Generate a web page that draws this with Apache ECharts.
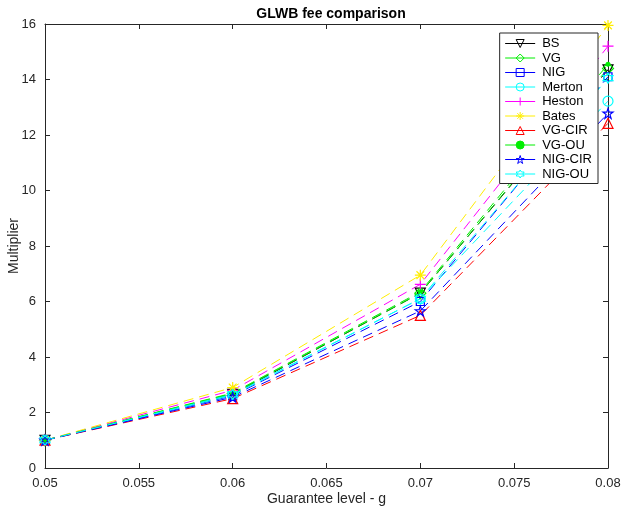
<!DOCTYPE html>
<html lang="en">
<head>
    <meta charset="UTF-8">
    <title>GLWB fee comparison</title>
    <script type="text/javascript" src="https://cdn.jsdelivr.net/npm/echarts@6/dist/echarts.min.js"></script>
    <style>
        body{
            padding: 0px;
            margin: 0px;
            background-color: #fff;
        }
        #chart{
            width: 623px;
            height: 507px;
        }
    </style>
</head>
<body>
    <div id="chart"></div>
    <script>
    // guarantee levels
    var levels = [0.05, 0.06, 0.07, 0.08];
    var models = ['BS', 'VG', 'NIG', 'Merton', 'Heston', 'Bates', 'VG-CIR', 'VG-OU', 'NIG-CIR', 'NIG-OU'];

    var bs     = [1, 2.65, 6.30, 14.35];
    var vg     = [1, 2.68, 6.30, 14.40];
    var nig    = [1, 2.60, 6.00, 14.10];
    var merton = [1, 2.62, 6.10, 13.22];
    var heston = [1, 2.80, 6.62, 15.20];
    var bates  = [1, 2.90, 6.95, 15.95];
    var vgCir  = [1, 2.50, 5.50, 12.42];
    var vgOu   = [1, 2.70, 6.35, 14.55];
    var nigCir = [1, 2.55, 5.66, 12.78];
    var nigOu  = [1, 2.65, 6.10, 14.05];

    var values = [bs, vg, nig, merton, heston, bates, vgCir, vgOu, nigCir, nigOu];
    var colors = ['#000000', '#00ee00', '#0000ff', '#00ffff', '#ff00ff', '#ffee00', '#ff0000', '#00ee00', '#0000ff', '#00ffff'];

    var star5 = 'path://M5,0L6.12,3.45L9.76,3.45L6.82,5.59L7.94,9.05L5,6.91L2.06,9.05L3.18,5.59L0.24,3.45L3.88,3.45Z';
    var star6 = 'path://M5,0L6.44,2.5L9.33,2.5L7.89,5L9.33,7.5L6.44,7.5L5,10L3.56,7.5L0.67,7.5L2.11,5L0.67,2.5L3.56,2.5Z';
    var plus = 'path://M0,5L10,5M5,0L5,10';
    var aster = 'path://M5,0L5,10M0,5L10,5M1.5,1.5L8.5,8.5M8.5,1.5L1.5,8.5';
    // marker per model: [symbol, size, rotate, filled]
    var markers = [
        ['triangle', 10, 180, false],
        ['diamond', 11, 0, false],
        ['rect', 8, 0, false],
        ['circle', 10, 0, false],
        [plus, 11, 0, false],
        [aster, 11, 0, false],
        ['triangle', 10, 0, false],
        ['circle', 4, 0, true],
        [star5, 10, 0, false],
        [star6, 10, 0, false]
    ];

    var series = models.map(function (name, i) {
        var m = markers[i];
        return {
            name: name,
            type: 'line',
            data: levels.map(function (x, j) { return [x, values[i][j]]; }),
            symbol: m[0],
            symbolSize: m[1],
            symbolRotate: m[2],
            showAllSymbol: true,
            lineStyle: {color: colors[i], width: 1, type: [10, 6]},
            itemStyle: {
                color: m[3] ? colors[i] : 'rgba(0,0,0,0)',
                borderColor: colors[i],
                borderWidth: 1.2
            },
            emphasis: {disabled: true}
        };
    });

    var axisCommon = {
        type: 'value',
        axisLine: {show: true, onZero: false, lineStyle: {color: '#262626', width: 1}},
        axisTick: {show: true, inside: true, length: 5, lineStyle: {color: '#262626'}},
        splitLine: {show: false}
    };

    var chart = echarts.init(document.getElementById('chart'), null, {renderer: 'canvas'});
    chart.setOption({
        animation: false,
        backgroundColor: '#fff',
        textStyle: {fontFamily: 'Liberation Sans, Arial, sans-serif'},
        title: {
            text: 'GLWB fee comparison',
            left: 326,
            textAlign: 'center',
            top: 2,
            textStyle: {fontSize: 14, fontWeight: 'bold', color: '#000'}
        },
        grid: {left: 45, right: 15, top: 24, bottom: 39, outerBoundsMode: 'none', containLabel: false},
        legend: {
            data: models,
            orient: 'vertical',
            right: 25,
            top: 33,
            padding: [4, 6, 3, 5],
            itemGap: 1.5,
            itemWidth: 30,
            itemHeight: 10,
            borderColor: '#262626',
            borderWidth: 1,
            backgroundColor: '#fff',
            lineStyle: {type: 'solid', width: 1},
            itemStyle: {borderWidth: 1},
            textStyle: {fontSize: 13, color: '#000', padding: [0, 0, 0, 2]}
        },
        xAxis: [
            Object.assign({}, axisCommon, {
                min: 0.05, max: 0.08, interval: 0.005,
                position: 'bottom',
                name: 'Guarantee level - g',
                nameLocation: 'middle',
                nameGap: 24,
                nameMoveOverlap: false,
                nameTextStyle: {fontSize: 14, color: '#262626'},
                axisLabel: {fontSize: 13, color: '#262626', margin: 9}
            }),
            Object.assign({}, axisCommon, {
                min: 0.05, max: 0.08, interval: 0.005,
                position: 'top',
                axisLabel: {show: false}
            })
        ],
        yAxis: [
            Object.assign({}, axisCommon, {
                min: 0, max: 16, interval: 2,
                position: 'left',
                name: 'Multiplier',
                nameLocation: 'middle',
                nameGap: 24,
                nameMoveOverlap: false,
                nameTextStyle: {fontSize: 14, color: '#262626'},
                axisLabel: {fontSize: 13, color: '#262626', margin: 9}
            }),
            Object.assign({}, axisCommon, {
                min: 0, max: 16, interval: 2,
                position: 'right',
                axisLabel: {show: false}
            })
        ],
        series: series
    });
    </script>
</body>
</html>
